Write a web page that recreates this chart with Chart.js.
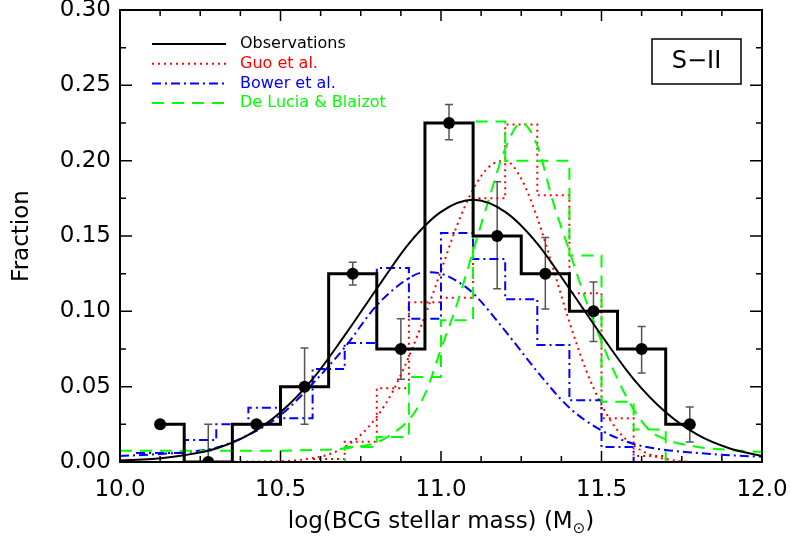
<!DOCTYPE html>
<html>
<head>
<meta charset="utf-8">
<script src="https://cdn.jsdelivr.net/npm/chart.js@4.4.0/dist/chart.umd.min.js"></script>
<style>
  html, body { margin: 0; padding: 0; background: #fff; }
</style>
</head>
<body>
<canvas id="bcgMass" width="790" height="540"></canvas>
<script>
const cvsMassa = document.getElementById("bcgMass");

// Observations: histogram (bin centres) + error bars
const obsCentres = [10.125, 10.275, 10.425, 10.575, 10.725, 10.875, 11.025, 11.175, 11.325, 11.475, 11.625, 11.775];
const obsFrac    = [0.025, 0.0, 0.025, 0.05, 0.125, 0.075, 0.225, 0.15, 0.125, 0.10, 0.075, 0.025];
const obsErrLo   = [null, 0.0, null, 0.025, 0.1175, 0.055, 0.2138, 0.115, 0.1016, 0.080, 0.059, 0.0133];
const obsErrHi   = [null, 0.025, null, 0.0756, 0.1325, 0.095, 0.2373, 0.186, 0.149, 0.1195, 0.090, 0.0365];

// gaussian fit to the observations
const obsFitX = [10.0, 10.1, 10.2, 10.3, 10.4, 10.5, 10.6, 10.7, 10.8, 10.9, 11.0, 11.1, 11.2, 11.3, 11.4, 11.5, 11.6, 11.7, 11.8, 11.9, 12.0];
const obsFitY = [0.001, 0.002, 0.0045, 0.009, 0.018, 0.033, 0.055, 0.084, 0.115, 0.145, 0.166, 0.174, 0.166, 0.145, 0.115, 0.084, 0.055, 0.033, 0.018, 0.009, 0.004];

// model histograms, 0.1 dex bins (centres)
const modelCentres = [10.05, 10.15, 10.25, 10.35, 10.45, 10.55, 10.65, 10.75, 10.85, 10.95, 11.05, 11.15, 11.25, 11.35, 11.45, 11.55, 11.65, 11.75, 11.85, 11.95];
const guoHist     = [0, 0, 0, 0, 0, 0, 0.002, 0.0135, 0.049, 0.106, 0.109, 0.175, 0.224, 0.177, 0.112, 0.029, 0.004, 0, 0, 0];
const bowerHist   = [0.006, 0.006, 0.0146, 0.025, 0.036, 0.029, 0.0617, 0.079, 0.1287, 0.095, 0.152, 0.1347, 0.108, 0.0777, 0.041, 0.010, 0, 0, 0, 0];
const deluciaHist = [0, 0, 0, 0, 0, 0, 0, 0.010, 0.0166, 0.0564, 0.094, 0.226, 0.200, 0.200, 0.137, 0.040, 0.0215, 0, 0, 0];

// model fits
const guoFitX = [10.0, 10.5, 10.6, 10.65, 10.7, 10.75, 10.8, 10.85, 10.9, 10.95, 11.0, 11.05, 11.1, 11.15, 11.2, 11.25, 11.3, 11.35, 11.4, 11.45, 11.5, 11.55, 11.6, 11.65, 11.7, 11.8, 12.0];
const guoFitY = [0, 0.0005, 0.0026, 0.005, 0.01, 0.018, 0.030, 0.047, 0.07, 0.097, 0.127, 0.157, 0.181, 0.196, 0.2, 0.188, 0.162, 0.128, 0.093, 0.062, 0.038, 0.021, 0.011, 0.005, 0.002, 0, 0];

const bowerFitX = [10.0, 10.1, 10.2, 10.3, 10.4, 10.5, 10.6, 10.7, 10.8, 10.9, 10.95, 11.0, 11.05, 11.1, 11.2, 11.3, 11.4, 11.5, 11.6, 11.7, 11.8, 11.9, 12.0];
const bowerFitY = [0.004, 0.005, 0.0065, 0.0095, 0.018, 0.031, 0.052, 0.076, 0.104, 0.122, 0.126, 0.125, 0.12, 0.112, 0.087, 0.060, 0.036, 0.021, 0.012, 0.008, 0.006, 0.0045, 0.0035];

const deluciaFitX = [10.0, 10.5, 10.6, 10.7, 10.8, 10.85, 10.9, 10.95, 11.0, 11.05, 11.1, 11.15, 11.2, 11.25, 11.3, 11.35, 11.4, 11.45, 11.5, 11.55, 11.6, 11.65, 11.7, 11.8, 11.9, 12.0];
const deluciaFitY = [0.0075, 0.0075, 0.008, 0.009, 0.013, 0.019, 0.028, 0.045, 0.075, 0.105, 0.14, 0.175, 0.208, 0.225, 0.21, 0.172, 0.14, 0.108, 0.08, 0.055, 0.035, 0.021, 0.015, 0.010, 0.008, 0.0066];

// legend + axis
const legendNames = ["Observations", "Guo et al.", "Bower et al.", "De Lucia & Blaizot"];
const legendColors = ["#000000", "#ff0000", "#0000ff", "#00ff00"];
const legendDash = [[], [2, 4], [9, 4, 2, 4], [12, 8]];
const xMinorStep = 0.125;
const yMinorStep = 0.025;

const pts = (xs, ys) => xs.map((x, i) => ({ x, y: ys[i] }));
const fonte = "DejaVu Sans";

// ticks inward on all four sides, frame, legend, S-II label, x title
const decor = {
  id: "decor",
  beforeDatasetsDraw(chart) {
    const { ctx, chartArea: a, scales: { x, y } } = chart;
    ctx.save();
    ctx.beginPath();
    ctx.rect(a.left, a.top, a.width, a.height);
    ctx.clip();
    ctx.strokeStyle = "#555";
    ctx.lineWidth = 1.5;
    obsCentres.forEach((c, i) => {
      if (obsErrHi[i] == null) return;
      const px = x.getPixelForValue(c);
      const y1 = y.getPixelForValue(obsErrLo[i]);
      const y2 = y.getPixelForValue(obsErrHi[i]);
      ctx.beginPath();
      ctx.moveTo(px, y1); ctx.lineTo(px, y2);
      ctx.moveTo(px - 4, y1); ctx.lineTo(px + 4, y1);
      ctx.moveTo(px - 4, y2); ctx.lineTo(px + 4, y2);
      ctx.stroke();
    });
    ctx.restore();
  },
  afterDraw(chart) {
    const { ctx, chartArea: a, scales: { x, y } } = chart;
    ctx.save();
    ctx.strokeStyle = "#000";
    ctx.lineWidth = 2;
    ctx.strokeRect(a.left, a.top, a.width, a.height);

    // x ticks
    ctx.lineWidth = 1.5;
    for (let v = x.min; v <= x.max + 1e-9; v += xMinorStep) {
      const major = Math.abs(v / 0.5 - Math.round(v / 0.5)) < 1e-6;
      const len = major ? 11 : 6;
      const px = x.getPixelForValue(v);
      ctx.beginPath();
      ctx.moveTo(px, a.bottom); ctx.lineTo(px, a.bottom - len);
      ctx.moveTo(px, a.top); ctx.lineTo(px, a.top + len);
      ctx.stroke();
    }
    // y ticks
    for (let v = y.min; v <= y.max + 1e-9; v += yMinorStep) {
      const major = Math.abs(v / 0.05 - Math.round(v / 0.05)) < 1e-6;
      const len = major ? 12 : 6;
      const py = y.getPixelForValue(v);
      ctx.beginPath();
      ctx.moveTo(a.left, py); ctx.lineTo(a.left + len, py);
      ctx.moveTo(a.right, py); ctx.lineTo(a.right - len, py);
      ctx.stroke();
    }

    // legend
    ctx.font = "16px " + fonte;
    ctx.textBaseline = "middle";
    ctx.textAlign = "left";
    legendNames.forEach((nome, i) => {
      const ly = a.top + 34 + i * 19.7;
      ctx.strokeStyle = legendColors[i];
      ctx.lineWidth = 2;
      ctx.setLineDash(legendDash[i]);
      ctx.beginPath();
      ctx.moveTo(a.left + 32, ly); ctx.lineTo(a.left + 106, ly);
      ctx.stroke();
      ctx.setLineDash([]);
      ctx.fillStyle = legendColors[i];
      ctx.fillText(nome, a.left + 120, ly);
    });

    // S-II box
    ctx.strokeStyle = "#000";
    ctx.lineWidth = 1.5;
    ctx.strokeRect(a.right - 110, a.top + 29, 89, 45);
    ctx.fillStyle = "#000";
    ctx.font = "24px " + fonte;
    ctx.textAlign = "center";
    ctx.fillText("S\u2212II", a.right - 110 + 44.5, a.top + 29 + 23);

    // x title with subscript sun symbol
    const t1 = "log(BCG stellar mass) (M";
    const t2 = "\u2299";
    const t3 = ")";
    ctx.textBaseline = "alphabetic";
    ctx.textAlign = "left";
    ctx.font = "23px " + fonte;
    const w1 = ctx.measureText(t1).width;
    const w3 = ctx.measureText(t3).width;
    ctx.font = "15px " + fonte;
    const w2 = ctx.measureText(t2).width;
    const total = w1 + w2 + w3;
    let tx = (a.left + a.right) / 2 - total / 2;
    const ty = 528;
    ctx.font = "23px " + fonte;
    ctx.fillText(t1, tx, ty);
    ctx.font = "15px " + fonte;
    ctx.fillText(t2, tx + w1, ty + 5);
    ctx.font = "23px " + fonte;
    ctx.fillText(t3, tx + w1 + w2, ty);
    ctx.restore();
  }
};

new Chart(cvsMassa, {
  type: "line",
  plugins: [decor],
  data: {
    datasets: [
      {
        label: "Observations",
        data: pts(obsCentres, obsFrac),
        stepped: "middle",
        borderColor: "#000",
        borderWidth: 3,
        pointRadius: 6,
        pointBackgroundColor: "#000",
        pointBorderWidth: 0,
        order: 0,
      },
      {
        label: "Observations fit",
        data: pts(obsFitX, obsFitY),
        borderColor: "#000",
        borderWidth: 2,
        pointRadius: 0,
        cubicInterpolationMode: "monotone",
        order: 1,
      },
      {
        label: "Guo et al.",
        data: pts(modelCentres, guoHist),
        stepped: "middle",
        borderColor: "#ff0000",
        borderWidth: 2,
        borderDash: [2, 4],
        pointRadius: 0,
        order: 4,
      },
      {
        label: "Guo fit",
        data: pts(guoFitX, guoFitY),
        borderColor: "#ff0000",
        borderWidth: 2,
        borderDash: [2, 4],
        pointRadius: 0,
        cubicInterpolationMode: "monotone",
        order: 4,
      },
      {
        label: "Bower et al.",
        data: pts(modelCentres, bowerHist),
        stepped: "middle",
        borderColor: "#0000ff",
        borderWidth: 2,
        borderDash: [9, 4, 2, 4],
        pointRadius: 0,
        order: 3,
      },
      {
        label: "Bower fit",
        data: pts(bowerFitX, bowerFitY),
        borderColor: "#0000ff",
        borderWidth: 2,
        borderDash: [9, 4, 2, 4],
        pointRadius: 0,
        cubicInterpolationMode: "monotone",
        order: 3,
      },
      {
        label: "De Lucia & Blaizot",
        data: pts(modelCentres, deluciaHist),
        stepped: "middle",
        borderColor: "#00ff00",
        borderWidth: 2,
        borderDash: [12, 8],
        pointRadius: 0,
        order: 2,
      },
      {
        label: "De Lucia fit",
        data: pts(deluciaFitX, deluciaFitY),
        borderColor: "#00ff00",
        borderWidth: 2,
        borderDash: [12, 8],
        pointRadius: 0,
        cubicInterpolationMode: "monotone",
        order: 2,
      },
    ],
  },
  options: {
    responsive: false,
    animation: false,
    devicePixelRatio: 1,
    layout: { padding: { top: 10, right: 28, left: 0, bottom: 0 } },
    plugins: {
      legend: { display: false },
      tooltip: { enabled: false },
    },
    scales: {
      x: {
        type: "linear",
        min: 10,
        max: 12,
        ticks: {
          stepSize: 0.5,
          color: "#000",
          padding: 14,
          maxRotation: 0,
          font: { family: fonte, size: 23 },
          callback: (v) => v.toFixed(1),
        },
        grid: { display: false, drawTicks: false },
        border: { display: false },
        afterFit: (s) => { s.height = 78; s.paddingLeft = 0; s.paddingRight = 0; },
      },
      y: {
        min: 0,
        max: 0.30,
        ticks: {
          stepSize: 0.05,
          color: "#000",
          padding: 9,
          font: { family: fonte, size: 23 },
          callback: (v) => v.toFixed(2),
        },
        grid: { display: false, drawTicks: false },
        border: { display: false },
        title: {
          display: true,
          text: "Fraction",
          color: "#000",
          padding: { top: 8, bottom: 0 },
          font: { family: fonte, size: 23 },
        },
        afterFit: (s) => { s.width = 120; s.paddingTop = 0; s.paddingBottom = 0; },
      },
    },
  },
});
</script>
</body>
</html>
